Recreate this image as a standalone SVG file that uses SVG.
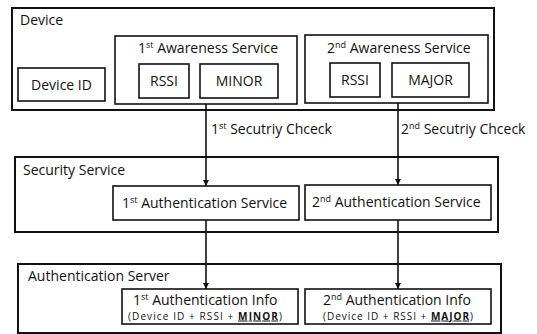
<svg xmlns="http://www.w3.org/2000/svg" width="537" height="334" viewBox="0 0 537 334">
<style>
.outer{fill:#fff;stroke:#111;stroke-width:2}
.inner{fill:#fff;stroke:#111;stroke-width:1.6}
text{font-family:"Open Sans","Noto Sans","DejaVu Sans",sans-serif;font-size:14px;fill:#111}
.sup{font-size:9px}
.small{font-size:10px}
.conn{stroke:#111;stroke-width:1.6;fill:none}
</style>
<defs>
<marker id="arr" viewBox="0 0 10 10" refX="10" refY="5" markerWidth="6" markerHeight="6" orient="auto" markerUnits="userSpaceOnUse">
<path d="M0,0 L10,5 L0,10 z" fill="#111"/>
</marker>
</defs>
<rect width="537" height="334" fill="#fff"/>
<g id="device">
<rect class="outer" x="12" y="8" width="482" height="102"/>
<text x="20" y="25">Device</text>
</g>
<g id="device-id">
<rect class="inner" x="18" y="68" width="87" height="33"/>
<text x="61.5" y="90" text-anchor="middle">Device ID</text>
</g>
<g id="awareness1">
<rect class="inner" x="115" y="36" width="182" height="68"/>
<text x="138" y="53">1<tspan class="sup" dy="-5">st</tspan><tspan dy="5"> Awareness Service</tspan></text>
</g>
<g id="rssi1">
<rect class="inner" x="139" y="64" width="50" height="34"/>
<text x="164" y="86" text-anchor="middle">RSSI</text>
</g>
<g id="minor">
<rect class="inner" x="200" y="64" width="78" height="34"/>
<text x="239" y="86" text-anchor="middle">MINOR</text>
</g>
<g id="awareness2">
<rect class="inner" x="305" y="35" width="183" height="68"/>
<text x="327" y="53">2<tspan class="sup" dy="-5">nd</tspan><tspan dy="5"> Awareness Service</tspan></text>
</g>
<g id="rssi2">
<rect class="inner" x="330" y="63" width="50" height="34"/>
<text x="355" y="85" text-anchor="middle">RSSI</text>
</g>
<g id="major">
<rect class="inner" x="392" y="63" width="77" height="34"/>
<text x="430.5" y="85" text-anchor="middle">MAJOR</text>
</g>
<g id="security-service">
<rect class="outer" x="15" y="157" width="483" height="75"/>
<text x="23" y="175">Security Service</text>
</g>
<g id="auth-service1">
<rect class="inner" x="113" y="186" width="186" height="34"/>
<text x="122" y="208">1<tspan class="sup" dy="-5">st</tspan><tspan dy="5"> Authentication Service</tspan></text>
</g>
<g id="auth-service2">
<rect class="inner" x="305" y="185" width="186" height="35"/>
<text x="312" y="207">2<tspan class="sup" dy="-5">nd</tspan><tspan dy="5"> Authentication Service</tspan></text>
</g>
<g id="auth-server">
<rect class="outer" x="18" y="264" width="483" height="69"/>
<text x="28" y="281">Authentication Server</text>
</g>
<g id="auth-info1">
<rect class="inner" x="122" y="289" width="176" height="35"/>
<text x="133" y="305">1<tspan class="sup" dy="-5">st</tspan><tspan dy="5"> Authentication Info</tspan></text>
<text class="small" x="128" y="319.5" textLength="154" lengthAdjust="spacing">(Device ID + RSSI + <tspan font-weight="bold" text-decoration="underline">MINOR</tspan>)</text>
</g>
<g id="auth-info2">
<rect class="inner" x="305" y="289" width="186" height="35"/>
<text x="323" y="305">2<tspan class="sup" dy="-5">nd</tspan><tspan dy="5"> Authentication Info</tspan></text>
<text class="small" x="323" y="319.5" textLength="150" lengthAdjust="spacing">(Device ID + RSSI + <tspan font-weight="bold" text-decoration="underline">MAJOR</tspan>)</text>
</g>
<g id="connectors">
<line class="conn" x1="206" y1="104" x2="206" y2="186" marker-end="url(#arr)"/>
<line class="conn" x1="398" y1="103" x2="398" y2="185" marker-end="url(#arr)"/>
<line class="conn" x1="206" y1="220" x2="206" y2="289" marker-end="url(#arr)"/>
<line class="conn" x1="398" y1="220" x2="398" y2="289" marker-end="url(#arr)"/>
<text x="211" y="134">1<tspan class="sup" dy="-5">st</tspan><tspan dy="5"> Secutriy Chceck</tspan></text>
<text x="401" y="134">2<tspan class="sup" dy="-5">nd</tspan><tspan dy="5"> Secutriy Chceck</tspan></text>
</g>
</svg>
